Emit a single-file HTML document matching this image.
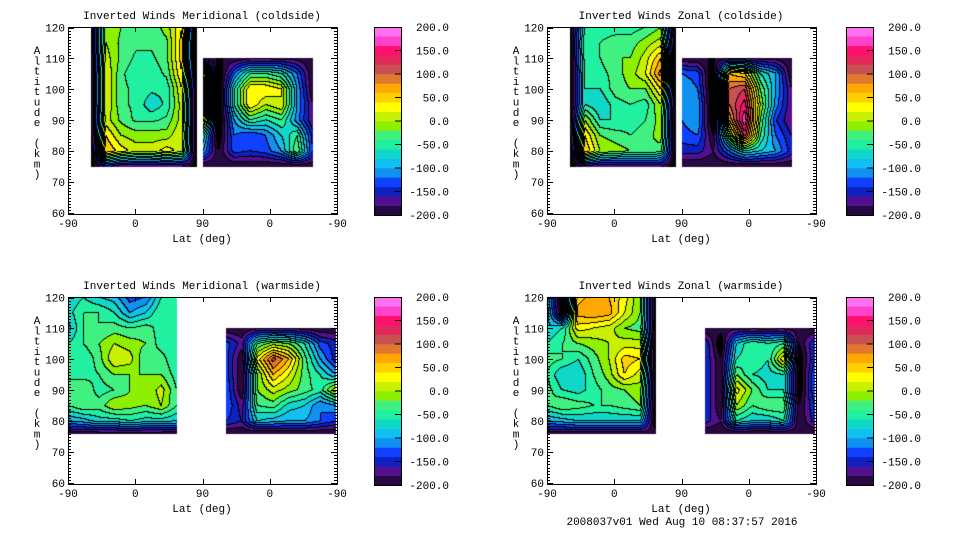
<!DOCTYPE html>
<html><head><meta charset="utf-8">
<style>
html,body{margin:0;padding:0;background:#fff;}
#wrap{position:relative;width:960px;height:540px;overflow:hidden;}
canvas,svg{position:absolute;left:0;top:0;}
text{font-family:"Liberation Mono",monospace;font-size:11px;fill:#000;}
</style></head>
<body>
<div id="wrap">
<canvas id="cv" width="960" height="540"></canvas>
<svg id="sv" width="960" height="540"></svg>
</div>
<script>
// ---- data ----
const colorLevels = [-200,-180,-160,-140,-120,-100,-80,-60,-40,-20,0,20,40,60,80,100,120,140,160,180];
const bandColors = ["#280840","#501090","#1020c0","#1040ff","#1090f0","#10c0f0","#10d8c8","#20f0a0","#40f080","#8cf000","#c8f000","#ffff00","#ffd000","#ffa800","#e07830","#c85050","#e0285a","#ff1070","#ff40c8","#ff70f0"];
const cbarLabels = ["200.0","150.0","100.0","50.0","0.0","-50.0","-100.0","-150.0","-200.0"];
const xTickLabels = ["-90","0","90","0","-90"];
const yTickLabels = ["60","70","80","90","100","110","120"];
const titles = ["Inverted Winds Meridional (coldside)","Inverted Winds Zonal (coldside)","Inverted Winds Meridional (warmside)","Inverted Winds Zonal (warmside)"];

const altsCold = [120,115,110,105,100,95,90,85,80,75];
const altsColdB = [110,105,100,95,90,85,80,75];
const altsWarm = [120,115,110,105,100,95,90,85,80,76];
const altsWarmB = [110,105,100,95,90,85,80,76];

const tlA = [
[-220,0,-20,-25,-35,-10,40,-220],
[-220,0,-25,-35,-35,-25,50,-220],
[-220,10,-25,-45,-45,-25,50,-220],
[-220,20,-35,-55,-55,-35,40,-220],
[-220,20,-35,-45,-55,-55,20,-220],
[-220,20,-35,-45,-75,-55,10,-220],
[-220,10,-25,-45,-45,-35,10,-220],
[-220,40,0,-10,-10,-10,20,-220],
[-220,60,30,10,10,30,10,-220],
[-220,-150,-180,-180,-180,-180,-180,-220]];
const tlB = [
[-200,-200,-200,-190,-190,-190,-190,-200],
[60,-230,-120,-40,-40,-60,-120,-200],
[80,-230,-60,40,40,20,-100,-200],
[80,-230,-60,40,0,20,-100,-180],
[60,-230,-100,-40,-60,-40,-110,-180],
[-60,-220,-120,-140,-120,-80,-40,-150],
[-100,-200,-130,-140,-130,-100,-20,-140],
[-200,-200,-200,-200,-200,-200,-200,-200]];
const trA = [
[-220,-60,-50,-50,-50,-40,-20,-220],
[-220,-40,-40,-30,-30,-10,10,-220],
[-220,-50,-40,-20,-20,10,60,-220],
[-220,-60,-50,-30,-10,20,90,-220],
[-220,-60,-60,-30,-20,-20,40,-220],
[-220,-60,-80,-50,-40,-50,0,-220],
[-220,0,-60,-60,-50,-40,-10,-220],
[-220,40,-20,-30,-40,-30,-10,-220],
[-220,60,0,-10,-20,-20,-30,-220],
[-220,-170,-180,-180,-180,-180,-180,-220]];
const trB = [
[-200,-200,-200,-190,-190,-190,-190,-200],
[-120,-130,-230,60,40,-60,-100,-200],
[-100,-120,-230,100,120,-20,-100,-180],
[-120,-100,-230,100,150,0,-110,-180],
[-120,-100,-230,60,180,-20,-140,-180],
[-130,-120,-200,-20,130,-40,-120,-160],
[-150,-150,-180,-120,-60,-80,-100,-150],
[-200,-200,-200,-200,-200,-200,-200,-200]];
const blA = [
[-80,-60,-80,-90,-130,-120,-60,-40],
[-70,-40,-40,-60,-100,-80,-40,-40],
[-90,-40,-40,-30,-40,-30,-50,-40],
[-60,-40,-20,0,-10,-20,-50,-60],
[-60,-60,-30,20,10,-40,-30,-60],
[-40,-50,-40,-20,-20,-20,-20,-50],
[-40,-20,-50,-40,-20,-20,10,-40],
[-40,-20,-30,0,-10,-20,0,-40],
[-100,-90,-70,-70,-60,-70,-70,-80],
[-190,-190,-190,-190,-190,-190,-190,-190]];
const blB = [
[-200,-200,-190,-190,-190,-190,-200,-200],
[-130,-170,-40,-10,-20,-60,-130,-150],
[-130,-200,30,110,60,-30,-100,-150],
[-130,-200,-20,60,20,-30,-60,-100],
[-120,-200,-20,10,-10,-30,-50,20],
[-120,-170,-40,-30,-70,-80,-120,-100],
[-140,-160,-80,-90,-100,-100,-120,-140],
[-200,-200,-200,-200,-200,-200,-200,-200]];
const brA = [
[-80,-220,50,70,60,30,-20,-220],
[-60,-220,70,80,70,20,-20,-220],
[-80,-60,30,20,10,-20,-30,-220],
[-60,-40,-20,-10,0,10,10,-220],
[-30,-40,-60,-30,0,50,40,-220],
[-40,-80,-80,-40,-10,40,10,-220],
[-30,-60,-70,-50,-30,-20,-10,-220],
[-40,-20,-30,-40,-40,-30,-20,-220],
[-100,-90,-80,-80,-80,-80,-80,-220],
[-190,-190,-190,-190,-190,-190,-190,-190]];
const brB = [
[-200,-190,-190,-190,-190,-190,-190,-200],
[-140,-220,-80,-40,-60,-40,-200,-140],
[-140,-200,-60,-40,-60,40,-220,-140],
[-140,-200,-20,-60,-70,-60,-220,-120],
[-140,-200,30,-20,-60,-60,-220,-120],
[-140,-200,0,-40,-20,-20,-200,-140],
[-150,-180,-60,-80,-80,-60,-200,-150],
[-200,-200,-200,-200,-200,-200,-200,-200]];

const panels = [
 {ox:0,ox2:0,oy:0,blocks:[{x0:31,x1:173,alts:altsCold,v:tlA},{x0:181,x1:328,alts:altsColdB,v:tlB}]},
 {ox:479,ox2:472,oy:0,blocks:[{x0:31,x1:173,alts:altsCold,v:trA},{x0:181,x1:328,alts:altsColdB,v:trB}]},
 {ox:0,ox2:0,oy:270,blocks:[{x0:0,x1:146,alts:altsWarm,v:blA},{x0:212,x1:359,alts:altsWarmB,v:blB}]},
 {ox:479,ox2:472,oy:270,blocks:[{x0:0,x1:146,alts:altsWarm,v:brA},{x0:212,x1:359,alts:altsWarmB,v:brB}]}
];

const PX0=68, PX1=337, PY0=27, PY1=214;
const xScale = p => PX0 + p*(PX1-PX0)/360;
const yScale = a => 213 - (a-60)*(213-27.5)/60;
const xInv = px => (px-PX0)*360/(PX1-PX0);
const yInv = py => 60 + (213-py)*60/(213-27.5);

function sample(b,pos,alt){
  if(pos<b.x0||pos>b.x1) return null;
  const A=b.alts; if(alt>A[0]||alt<A[A.length-1]) return null;
  const nc=b.v[0].length;
  const fx=(pos-b.x0)/(b.x1-b.x0)*(nc-1);
  let c=Math.min(Math.floor(fx),nc-2); const tx=fx-c;
  let r=0; while(r<A.length-2 && alt<A[r+1]) r++;
  const ty=(A[r]-alt)/(A[r]-A[r+1]);
  const v=b.v;
  const top=v[r][c]*(1-tx)+v[r][c+1]*tx, bot=v[r+1][c]*(1-tx)+v[r+1][c+1]*tx;
  return top*(1-ty)+bot*ty;
}
function band(v){ if(v<colorLevels[0]) return -1; let i=Math.floor((v+200)/20); return Math.min(i,19); }

const cv=document.getElementById('cv'), ctx=cv.getContext('2d');
const img=ctx.createImageData(960,540);
function hex(h){return [parseInt(h.substr(1,2),16),parseInt(h.substr(3,2),16),parseInt(h.substr(5,2),16)];}
const rgb=bandColors.map(hex);
panels.forEach(P=>{
  const W=PX1-PX0, H=PY1-PY0;
  const grid=[];
  for(let y=0;y<=H;y++){const row=[];for(let x=0;x<=W;x++){
    const pos=xInv(PX0+x+0.5), alt=yInv(PY0+y+0.5); let val=null;
    for(const b of P.blocks){const s=sample(b,pos,alt); if(s!==null){val=s;break;}}
    row.push(val===null?null:band(val));}
    grid.push(row);}
  for(let y=0;y<=H;y++)for(let x=0;x<=W;x++){
    const bd=grid[y][x]; if(bd===null) continue;
    let c = bd<0?[0,0,0]:rgb[bd];
    const r=x<W?grid[y][x+1]:null, d=y<H?grid[y+1][x]:null;
    if((r!==null&&r!==bd)||(d!==null&&d!==bd)) c=[0,0,0];
    const i=((PY0+P.oy+y)*960+(PX0+P.ox+x))*4;
    img.data[i]=c[0];img.data[i+1]=c[1];img.data[i+2]=c[2];img.data[i+3]=255;
  }
});
ctx.putImageData(img,0,0);

const NS='http://www.w3.org/2000/svg', sv=document.getElementById('sv');
function el(t,a,parent){const e=document.createElementNS(NS,t);for(const k in a)e.setAttribute(k,a[k]);(parent||sv).appendChild(e);return e;}
panels.forEach((P,pi)=>{
  const g=el('g',{transform:`translate(${P.ox},${P.oy})`});
  
  
  const box=el('rect',{x:PX0+0.5,y:PY0+0.5,width:PX1-PX0,height:PY1-PY0,fill:'none',stroke:'#000','stroke-width':1},g);
  
  
  let d='';
  for(let a=60;a<=120;a++){const y=Math.round(yScale(a))+0.5;const L=(a%10===0)?6:3;
    d+=`M${PX0} ${y}h${L}M${PX1} ${y}h${-L}`;}
  xTickLabels.forEach((l,i)=>{const x=Math.round(xScale(i*90))+0.5;d+=`M${x} ${PY1}v-5M${x} ${PY0}v5`;});
  el('path',{d:d,stroke:'#000','stroke-width':1,fill:'none'},g);
  yTickLabels.forEach((l,i)=>{const t=el('text',{x:PX0-3,y:yScale(60+i*10)+4,'text-anchor':'end'},g);t.textContent=l;
    });
  xTickLabels.forEach((l,i)=>{const t=el('text',{x:xScale(i*90),y:PY1+13,'text-anchor':'middle'},g);t.textContent=l;
    });
  const tt=el('text',{x:202,y:19,'text-anchor':'middle','font-size':'10'},g);tt.textContent=titles[pi];
  
  const xl=el('text',{x:202,y:242,'text-anchor':'middle'},g);xl.textContent='Lat (deg)';
  
  const yl=el('text',{x:37,y:0,'text-anchor':'middle'},g);
  
  'Altitude (km)'.split('').forEach((ch,k)=>{const s=el('tspan',{x:37,y:54+k*10.3},yl);s.textContent=ch===' '?'\u00a0':ch;});
  const cg=el('g',{transform:`translate(${P.ox2-P.ox},0)`},g);
  
  const cy=v=>27+(200-v)*188/400;
  colorLevels.forEach((lv,i)=>{const r=el('rect',{x:374,y:cy(lv+20),width:28,height:cy(lv)-cy(lv+20)+0.3,fill:bandColors[i]},cg);
    });
  el('rect',{x:374.5,y:27.5,width:27,height:188,fill:'none',stroke:'#000'},cg);
  cbarLabels.forEach((l,i)=>{const v=200-i*50;const y=cy(v);
    if(i>0&&i<8) el('line',{x1:395,x2:402,y1:y,y2:y,stroke:'#000'},cg);
    const t=el('text',{x:449,y:y+4,'text-anchor':'end'},cg);t.textContent=l;
    });
});
const ft=el('text',{x:682,y:525,'text-anchor':'middle','font-size':'10'});
ft.textContent='2008037v01 Wed Aug 10 08:37:57 2016';


</script>
</body></html>
